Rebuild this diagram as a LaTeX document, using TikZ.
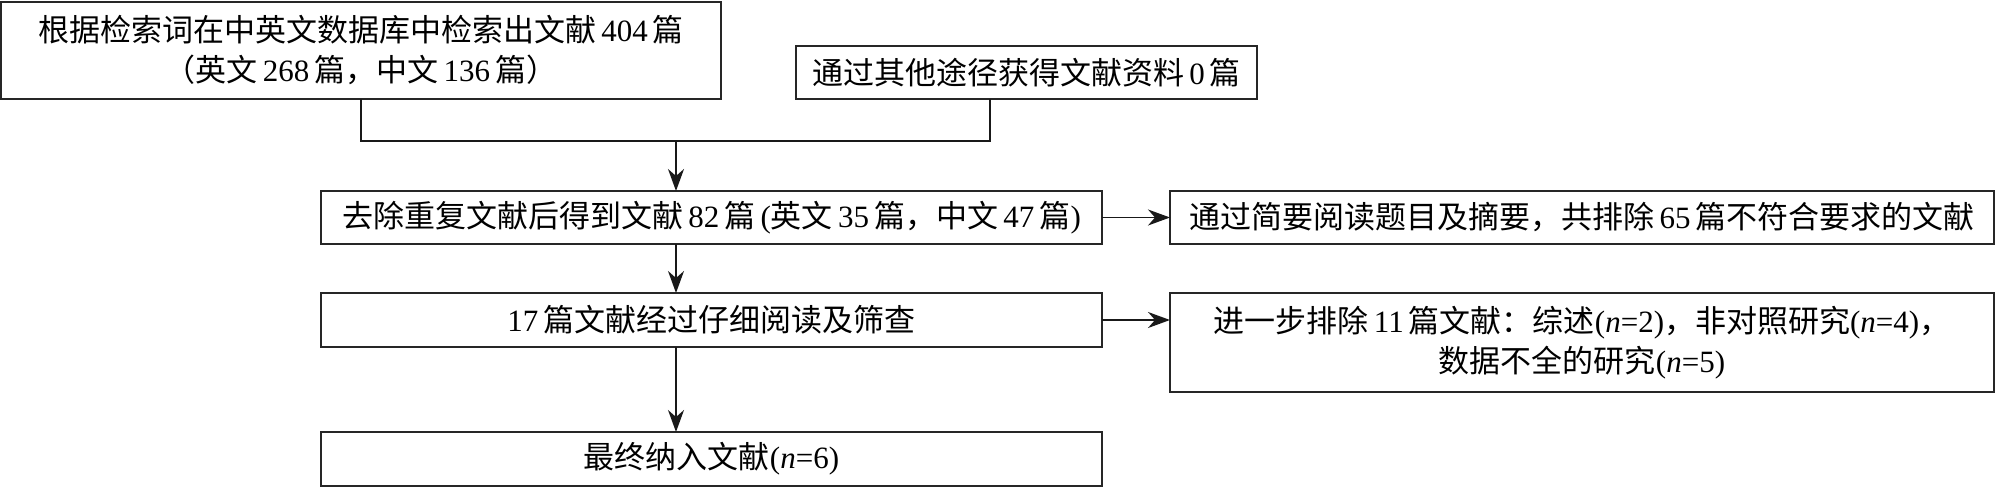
\documentclass[tikz,border=0pt]{standalone}
\usepackage{fontspec}
\setmainfont{Liberation Serif}
\newfontfamily\cjk{Noto Sans CJK SC}
\newfontfamily\lat{Liberation Serif}
\newcommand\nm[1]{\,{\lat#1}\,}
\newcommand\nn[1]{{\lat(\textit{n}=#1)}}
\usetikzlibrary{positioning,arrows.meta}

\begin{document}
\begin{tikzpicture}[
  font=\cjk\fontsize{15.5pt}{20pt}\selectfont,
  box/.style={draw=black!85, line width=1pt, inner sep=0pt, outer sep=0pt, align=center},
  lnk/.style={line width=0.7pt, draw=black!90},
  arr/.style={-{Stealth[length=11pt,width=8pt,inset=3.5pt]}, line width=0.75pt, draw=black!90},
]
\useasboundingbox (0,0) rectangle (998pt,-243.5pt);

%% ============ sources ============
\node[box, minimum width=360pt, minimum height=48.5pt, anchor=north west] (src) at (0.5pt,-1pt)
  {根据检索词在中英文数据库中检索出文献\nm{404}篇\\（英文\nm{268}篇，中文\nm{136}篇）};
\node[box, minimum width=230.5pt, minimum height=26.5pt, right=37.5pt of src.south east, anchor=south west] (oth)
  {通过其他途径获得文献资料\nm{0}篇};

%% ============ screening chain ============
\node[box, minimum width=390.5pt, minimum height=26.5pt, anchor=north west] (dup) at (160.5pt,-95.5pt)
  {去除重复文献后得到文献\nm{82}篇\,{\lat(}英文\nm{35}篇，中文\nm{47}篇{\lat)}};
\node[box, minimum width=390.5pt, minimum height=27pt, below=24.5pt of dup] (rd)
  {{\lat 17}\,篇文献经过仔细阅读及筛查};
\node[box, minimum width=390.5pt, minimum height=27pt, below=42.5pt of rd] (fin)
  {最终纳入文献\nn{6}};

%% ============ exclusions ============
\node[box, minimum width=412pt, minimum height=26.5pt, right=34pt of dup] (ex1)
  {通过简要阅读题目及摘要，共排除\nm{65}篇不符合要求的文献};
\node[box, minimum width=412pt, minimum height=49.5pt, right=34pt of rd.north east, anchor=north west] (ex2)
  {进一步排除\nm{11}篇文献：综述\nn{2}，非对照研究\nn{4}，\\数据不全的研究\nn{5}};

%% ============ flows ============
\coordinate (jn) at (338pt,-70.5pt);
\coordinate (jr) at (495pt,-70.5pt);
\draw[lnk] (src.south) |- (jr) -- (jr |- oth.south);
\draw[arr] (jn) -- (jn |- dup.north);
\draw[arr] (jn |- dup.south) -- (jn |- rd.north);
\draw[arr] (jn |- rd.south) -- (jn |- fin.north);
\draw[arr] (dup.east) -- (ex1.west);
\draw[arr] (rd.east) -- (rd.east -| ex2.west);

\end{tikzpicture}
\end{document}
